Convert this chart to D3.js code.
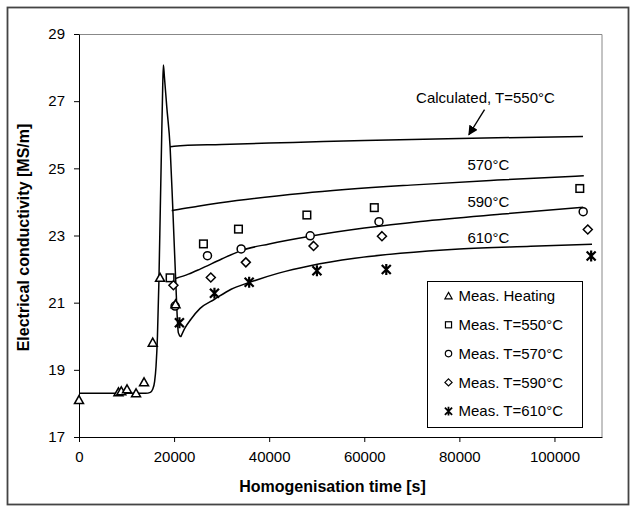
<!DOCTYPE html>
<html>
<head>
<meta charset="utf-8">
<script src="https://cdn.jsdelivr.net/npm/d3@7"></script>
<style>
  body { margin: 0; background: #fff; }
  svg text { font-family: "Liberation Sans", Arial, sans-serif; fill: #000; }
</style>
</head>
<body>
<div class="chart"></div>
<script>
// calculated curves [time s, conductivity MS/m]
const calcHeating = [[0,18.3],[14000,18.3],[15000,18.33],[15500,18.42],[15900,18.65],[16200,19.1],[16500,20.0],[16800,21.6],[17100,23.8],[17400,26.0],[17600,27.4],[17750,28.08],[17950,27.75],[18460,26.83],[19160,25.64],[19700,23.9],[20300,21.8],[20900,20.1],[21400,19.98]];
const calc550 = [[19160,25.64],[20000,25.66],[30000,25.71],[45000,25.77],[60000,25.83],[80000,25.89],[106000,25.95]];
const calc570 = [[19500,23.74],[20210,23.76],[25000,23.87],[33200,24.04],[47220,24.26],[69700,24.5],[88000,24.65],[106170,24.78]];
const calc590 = [[20300,21.72],[23000,21.85],[25470,22.0],[30000,22.3],[34100,22.55],[40000,22.75],[48630,22.98],[60000,23.22],[71790,23.42],[90000,23.65],[106040,23.84]];
const calc610 = [[21400,19.98],[22300,20.25],[23500,20.5],[25470,20.83],[28500,21.1],[32000,21.4],[35790,21.6],[42000,21.88],[48630,22.1],[58000,22.32],[67580,22.47],[80000,22.6],[95000,22.68],[107900,22.74]];

// measured points
const measHeating = [[0,18.1],[8300,18.33],[8900,18.36],[10100,18.42],[12000,18.3],[13680,18.63],[15510,19.81],[17050,21.74],[20300,20.95]];
const meas550 = [[19160,21.74],[26170,22.75],[33540,23.19],[47930,23.61],[62110,23.83],[105330,24.4]];
const meas570 = [[20210,20.9],[27020,22.4],[34100,22.6],[48630,22.99],[63090,23.41],[106040,23.71]];
const meas590 = [[19860,21.52],[27720,21.75],[35090,22.2],[49330,22.69],[63720,22.98],[107010,23.18]];
const meas610 = [[21120,20.4],[28490,21.28],[35790,21.61],[50040,21.95],[64630,21.99],[107720,22.39]];

const xTicks = [0,20000,40000,60000,80000,100000];
const yTicks = [17,19,21,23,25,27,29];

const curveLabels = [
  {text:"570°C", x:81700, y:24.85},
  {text:"590°C", x:81700, y:23.75},
  {text:"610°C", x:81700, y:22.7}
];
const legendItems = [
  {name:"Meas. Heating", sym:"triangle"},
  {name:"Meas. T=550°C", sym:"square"},
  {name:"Meas. T=570°C", sym:"circle"},
  {name:"Meas. T=590°C", sym:"diamond"},
  {name:"Meas. T=610°C", sym:"star"}
];

const W = 636, H = 512;
const margin = {left:79, right:34, top:34, bottom:75};
const width = W - margin.left - margin.right;
const height = H - margin.top - margin.bottom;

const svg = d3.select(".chart").append("svg")
  .attr("width", W)
  .attr("height", H);

// outer chart frame
svg.append("rect")
  .attr("x", 7.5).attr("y", 7.5)
  .attr("width", 621).attr("height", 497)
  .attr("fill", "none").attr("stroke", "#444").attr("stroke-width", 1.8);

const g = svg.append("g")
  .attr("transform", `translate(${margin.left}, ${margin.top})`);

const x = d3.scaleLinear().domain([0,110000]).range([0,width]);
const y = d3.scaleLinear().domain([17,29]).range([height,0]);

// plot area border (top/right)
g.append("path")
  .attr("d", `M0,0.5H${width}V${height}`)
  .attr("fill","none").attr("stroke","#888").attr("stroke-width",1);

const xAxis = d3.axisBottom(x).tickValues(xTicks).tickSize(5).tickSizeOuter(0).tickFormat(d3.format("d"));
const yAxis = d3.axisLeft(y).tickValues(yTicks).tickSize(5).tickSizeOuter(0);

g.append("g")
  .attr("class","x-axis")
  .attr("transform", `translate(0, ${height})`)
  .call(xAxis)
  .call(a => a.selectAll("text").attr("font-size", 15).attr("dy", "1.1em"));

g.append("g")
  .attr("class","y-axis")
  .call(yAxis)
  .call(a => a.selectAll("text").attr("font-size", 15).attr("x", -14));

g.selectAll(".domain, .tick line").attr("stroke","#000");
g.selectAll(".tick text").attr("font-family", "Liberation Sans, Arial, sans-serif");

// axis titles
svg.append("text")
  .attr("x", margin.left + width/2 - 8).attr("y", 492)
  .attr("text-anchor","middle").attr("font-size",16).attr("font-weight","bold")
  .text("Homogenisation time [s]");

svg.append("text")
  .attr("transform", `translate(29, ${margin.top + height/2 + 2}) rotate(-90)`)
  .attr("text-anchor","middle").attr("font-size",16).attr("font-weight","bold")
  .text("Electrical conductivity [MS/m]");

// calculated lines
const line = d3.line().x(d => x(d[0])).y(d => y(d[1])).curve(d3.curveMonotoneX);
[calcHeating, calc550, calc570, calc590, calc610].forEach(c => {
  g.append("path").datum(c)
    .attr("d", line)
    .attr("fill","none").attr("stroke","#000").attr("stroke-width",1.5);
});

// curve labels
g.selectAll(".clabel").data(curveLabels).enter().append("text")
  .attr("class","clabel")
  .attr("x", d => x(d.x)).attr("y", d => y(d.y) - 3)
  .attr("font-size",15)
  .text(d => d.text);

// annotation for 550
g.append("text")
  .attr("x", x(70900)).attr("y", y(26.95))
  .attr("font-size",15)
  .text("Calculated, T=550°C");

svg.append("defs").append("marker")
  .attr("id","arrow").attr("viewBox","0 0 10 10")
  .attr("refX",9).attr("refY",5)
  .attr("markerWidth",7).attr("markerHeight",7)
  .attr("orient","auto")
  .append("path").attr("d","M0,0L10,5L0,10z").attr("fill","#000");

g.append("line")
  .attr("x1", x(85300)).attr("y1", y(26.75))
  .attr("x2", x(82000)).attr("y2", y(26.0))
  .attr("stroke","#000").attr("stroke-width",1.4)
  .attr("marker-end","url(#arrow)");

// marker symbols
function drawSym(sel, sym) {
  if (sym === "triangle") {
    sel.append("path").attr("d","M0,-4.5L4.5,3.5L-4.5,3.5Z");
  } else if (sym === "square") {
    sel.append("rect").attr("x",-3.8).attr("y",-3.8).attr("width",7.6).attr("height",7.6);
  } else if (sym === "circle") {
    sel.append("circle").attr("r",4);
  } else if (sym === "diamond") {
    sel.append("path").attr("d","M0,-4.5L4.5,0L0,4.5L-4.5,0Z");
  } else if (sym === "star") {
    sel.append("path").attr("d","M-4.5,-4.5L4.5,4.5M-4.5,4.5L4.5,-4.5M0,-5.5V5.5");
  }
  sel.selectAll("*").attr("fill", sym === "star" ? "none" : "#fff")
    .attr("stroke","#000").attr("stroke-width", sym === "star" ? 2.2 : 1.5);
}

const measSets = [
  {data: meas550, sym:"square"},
  {data: meas570, sym:"circle"},
  {data: meas590, sym:"diamond"},
  {data: measHeating, sym:"triangle"},
  {data: meas610, sym:"star"}
];
measSets.forEach(ms => {
  g.append("g").selectAll("g").data(ms.data).enter().append("g")
    .attr("transform", d => `translate(${x(d[0])},${y(d[1])})`)
    .each(function() { drawSym(d3.select(this), ms.sym); });
});

// legend
const lg = svg.append("g").attr("transform","translate(427.5,281.5)");
lg.append("rect").attr("width",155).attr("height",146)
  .attr("fill","#fff").attr("stroke","#000").attr("stroke-width",1);
const rows = lg.selectAll(".row").data(legendItems).enter().append("g")
  .attr("transform",(d,i) => `translate(0, ${14.5 + i*28.8})`);
rows.append("g").attr("transform","translate(21,0) scale(0.8)")
  .each(function(d) { drawSym(d3.select(this), d.sym); });
rows.append("text").attr("x",31).attr("dy","0.35em").attr("font-size",15)
  .text(d => d.name);
</script>
</body>
</html>
